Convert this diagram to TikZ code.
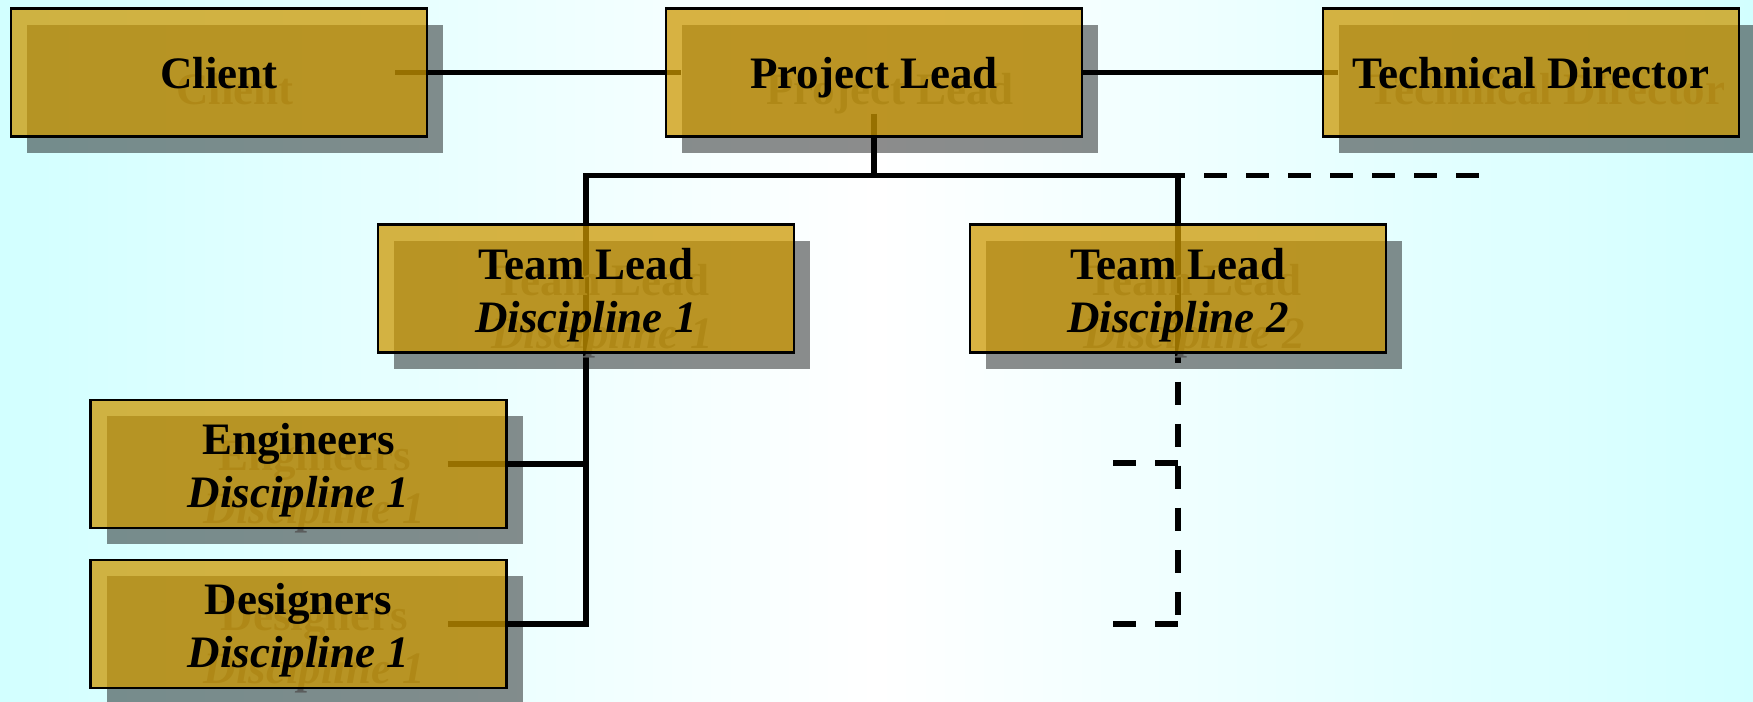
\documentclass[tikz,border=0pt]{standalone}
\usepackage{fontspec}
\setmainfont{Liberation Serif}
\usepackage{tikz}

\definecolor{boxgold}{RGB}{205,152,0}
\definecolor{bgcyan}{RGB}{210,255,255}
\definecolor{ghostgray}{RGB}{90,92,92}

\pgfdeclarelayer{bg}
\pgfdeclarelayer{links}
\pgfsetlayers{bg,links,main}

\newcommand{\toprow}{\rule{0pt}{12.5pt}}

\tikzset{
  orgbox/.style={rectangle, draw=black, line width=0.6pt, fill=boxgold, fill opacity=0.74, text opacity=1,
    minimum width=4.16cm, minimum height=1.28cm, inner sep=0pt, align=center,
    font=\fontsize{12.8}{15}\selectfont\bfseries},
  orgshadow/.style={rectangle, fill=black, fill opacity=0.45, text opacity=1, text=ghostgray,
    minimum width=4.16cm, minimum height=1.28cm, inner sep=0pt, align=center,
    font=\fontsize{12.8}{15}\selectfont\bfseries},
  oneline/.style={text depth=0pt},
  link/.style={line width=1.6pt},
  dashlink/.style={line width=1.6pt, dash pattern=on 0.23cm off 0.19cm}
}

\begin{document}
\begin{tikzpicture}
  \useasboundingbox (0cm, 0cm) rectangle (17.53cm, -7.01cm);
  \begin{pgfonlayer}{bg}
    \fill [left color=bgcyan, right color=bgcyan, middle color=white] (0cm, 0cm) rectangle (17.53cm, -7.01cm);
  \end{pgfonlayer}

  % shadows
  \node [orgshadow, oneline] (client-s) at (2.35cm, -0.885cm) {Client};
  \node [orgshadow, oneline] (plead-s) at (8.90cm, -0.885cm) {Project Lead};
  \node [orgshadow, oneline] (tdir-s) at (15.47cm, -0.885cm) {Technical Director};
  \node [orgshadow] (tl1-s) at (6.02cm, -3.045cm) {\toprow Team Lead\\\itshape Discipline 1};
  \node [orgshadow] (tl2-s) at (11.94cm, -3.045cm) {\toprow Team Lead\\\itshape Discipline 2};
  \node [orgshadow] (eng-s) at (3.145cm, -4.80cm) {\toprow Engineers\\\itshape Discipline 1};
  \node [orgshadow] (des-s) at (3.145cm, -6.40cm) {\toprow Designers\\\itshape Discipline 1};

  % boxes
  \node [orgbox, oneline] (client) at (2.19cm, -0.725cm) {Client};
  \node [orgbox, oneline] (plead) at (8.74cm, -0.725cm) {Project Lead};
  \node [orgbox, oneline] (tdir) at (15.31cm, -0.725cm) {Technical Director};
  \node [orgbox] (tl1) at (5.86cm, -2.885cm) {\toprow Team Lead\\\itshape Discipline 1};
  \node [orgbox] (tl2) at (11.78cm, -2.885cm) {\toprow Team Lead\\\itshape Discipline 2};
  \node [orgbox] (eng) at (2.985cm, -4.64cm) {\toprow Engineers\\\itshape Discipline 1};
  \node [orgbox] (des) at (2.985cm, -6.24cm) {\toprow Designers\\\itshape Discipline 1};

  \coordinate (bus) at (8.74cm, -1.755cm);
  \coordinate (busend) at (14.79cm, -1.755cm);
  \coordinate (d2top) at (11.13cm, -4.63cm);
  \coordinate (d2bot) at (11.13cm, -6.24cm);

  \begin{pgfonlayer}{links}
    \draw [link, shorten <=-3.3mm, shorten >=-1.6mm] (client.east) -- (plead.west);
    \draw [link, shorten >=-1.6mm] (plead.east) -- (tdir.west);
    \draw [link, shorten <=-2.4mm] (plead.south) -- (bus);
    \draw [link] (bus) -| (tl1.north) -- (tl1.south) |- ([xshift=-6mm]des.east);
    \draw [link] ([xshift=-6mm]eng.east) -- (eng.east -| tl1.south);
    \draw [link] (bus) -| (tl2.north) -- (tl2.south);
    \draw [dashlink, dash phase=0.16cm] (tl2.north |- bus) -- (busend);
    \draw [dashlink, dash phase=0.14cm] (tl2.south) -- (tl2.south |- d2bot);
    \draw [dashlink] (d2top) -- (d2top -| tl2.south);
    \draw [dashlink] (d2bot) -- (d2bot -| tl2.south);
  \end{pgfonlayer}
\end{tikzpicture}
\end{document}
